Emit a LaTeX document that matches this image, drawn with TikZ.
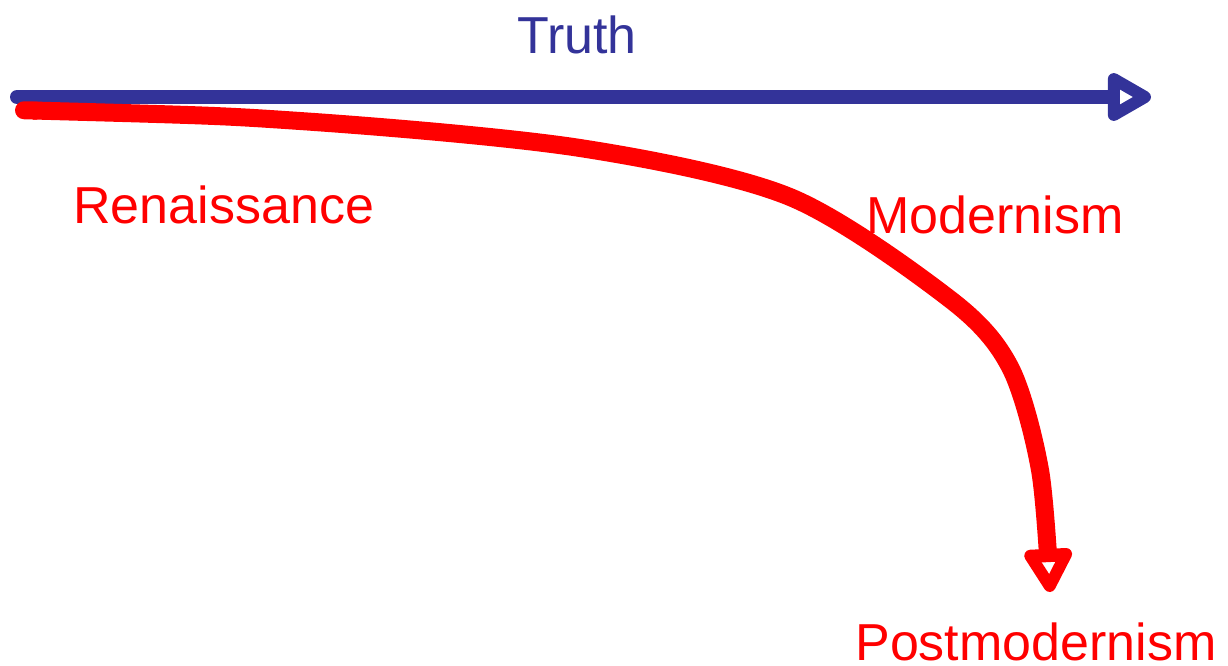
\documentclass[tikz,border=0pt]{standalone}
\usepackage{fontspec}
\setmainfont{Liberation Sans}
\usetikzlibrary{arrows.meta}
\definecolor{TruthBlue}{RGB}{51,51,153}
\definecolor{EraRed}{RGB}{255,0,0}

\begin{document}
\begin{tikzpicture}[
    x=0.02cm, y=-0.02cm,
    font=\fontsize{29.6}{34}\selectfont,
    era/.style={anchor=base west, inner sep=0pt, text=EraRed},
    tip/.style={{Round Cap[]}-{Triangle[open, round, length=1.0cm 0, width=1.06cm 0, line width=0.24cm 0]}},
    truthline/.style={tip, line width=0.28cm, line cap=butt, draw=TruthBlue},
    eraline/.style={tip, line width=0.36cm, line cap=butt, draw=EraRed}
]
\useasboundingbox (0,0) rectangle (1228,666);
% labels
\node[anchor=base west, inner sep=0pt, text=TruthBlue] (truth) at (517,53) {Truth};
\node[era] (renaissance) at (73,223) {Renaissance};
\node[era] (modernism) at (866,233) {Modernism};
\node[era] (postmodernism) at (855,660) {Postmodernism};
% end points of the two arrows
\coordinate (truthstart) at (10,97);
\coordinate (truthend) at (1151,97);
\coordinate (erastart) at (15,110);
\coordinate (eraend) at (1050,592);
\draw[truthline] (truthstart) -- (truthend);
\draw[eraline] plot[smooth, tension=0.5] coordinates {(erastart) (300,121) (580,148) (790,197) (951,300) (1010,367) (1040,470) (eraend)};
\end{tikzpicture}
\end{document}
